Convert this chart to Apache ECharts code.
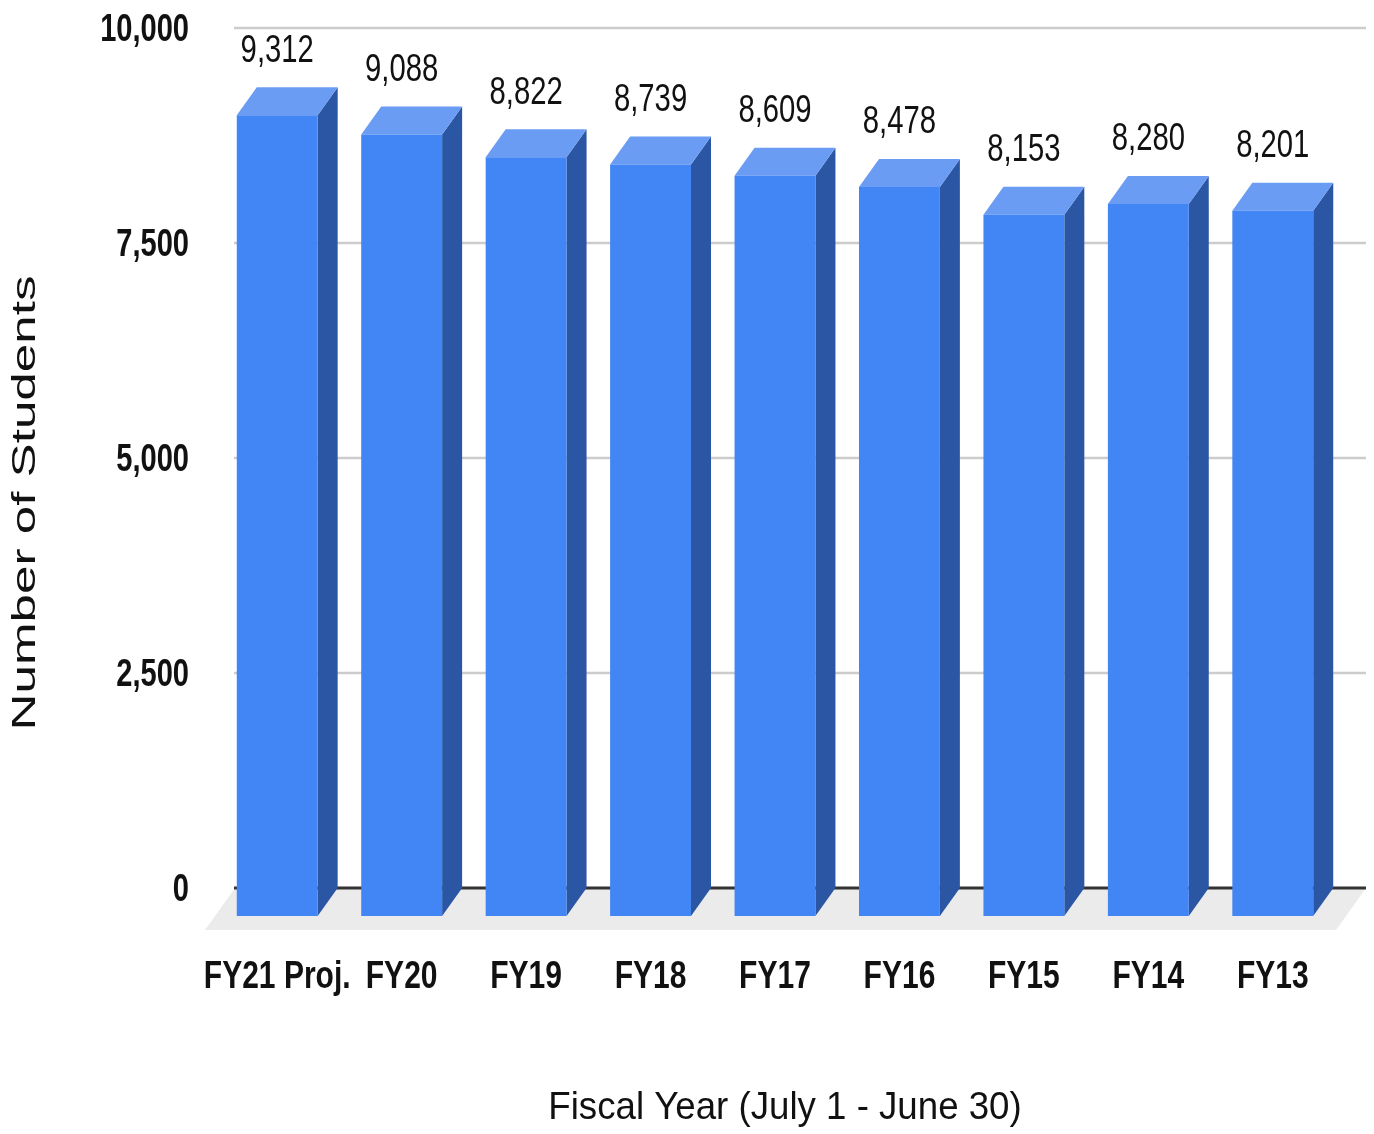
<!DOCTYPE html>
<html lang="en">
<head>
    <meta charset="UTF-8">
    <title>Number of Students by Fiscal Year</title>
    <style>
        html, body { margin: 0; padding: 0; background: #fff; }
    </style>
</head>
<body>
<div id="main" style="width: 1374px;height:1134px;"></div>

<script src="https://cdn.jsdelivr.net/npm/echarts@6/dist/echarts.min.js"></script>
<script>
    // data
    var years = ['FY21 Proj.', 'FY20', 'FY19', 'FY18', 'FY17', 'FY16', 'FY15', 'FY14', 'FY13'];
    var students = [9312, 9088, 8822, 8739, 8609, 8478, 8153, 8280, 8201];
    var yTicks = [0, 2500, 5000, 7500, 10000];

    var xTitle = 'Fiscal Year (July 1 - June 30)';
    var yTitle = 'Number of Students';

    var FONT = '"Liberation Sans", Arial, sans-serif';

    // 3d look: the face of each bar sits in front of the back wall (left / down)
    var DX = 20, DY = 28;

    var myChart = echarts.init(document.getElementById('main'));

    function fmt(v) {
        return v.toLocaleString('en-US');
    }

    // the source text is narrow and tall, so texts get squeezed with scaleX
    function label(x, y, str, font, sx, align, rot) {
        return {
            type: 'text',
            x: x,
            y: y,
            scaleX: sx,
            rotation: rot || 0,
            silent: true,
            style: {
                x: 0,
                y: 0,
                text: str,
                font: font,
                fill: '#111',
                textAlign: align || 'center',
                textVerticalAlign: 'middle'
            }
        };
    }

    // floor, gridlines, tick labels and axis titles
    function renderBack(params, api) {
        var cs = params.coordSys;
        var y0 = cs.y + cs.height;
        var right = cs.x + cs.width + 11;
        var kids = [];

        kids.push({
            type: 'polygon',
            shape: {
                points: [[cs.x, y0], [right, y0], [right - 30, y0 + 42], [cs.x - 30, y0 + 42]]
            },
            style: { fill: '#ebebeb' }
        });

        yTicks.forEach(function (t) {
            var y = api.coord([0, t])[1];
            kids.push({
                type: 'line',
                shape: { x1: cs.x - 1, y1: y, x2: right, y2: y },
                style: t === 0 ? { stroke: '#333', lineWidth: 3 } : { stroke: '#cccccc', lineWidth: 2.5 }
            });
            kids.push(label(cs.x - 46, y + 2, fmt(t), 'bold 39px ' + FONT, 0.745, 'right'));
        });

        kids.push(label(cs.x + cs.width / 2 - 10, y0 + 220, xTitle, '39px ' + FONT, 0.94));
        kids.push(label(26, cs.y + cs.height / 2 + 45, yTitle, '33px ' + FONT, 1.55, 'center', Math.PI / 2));

        return { type: 'group', children: kids };
    }

    function renderBar(params, api) {
        var i = api.value(0);
        var top = api.coord([i, api.value(1)]);
        var base = api.coord([i, 0]);
        var w = api.size([1, 0])[0] * 0.65;
        var cx = top[0] - DX;
        var l = cx - w / 2, r = cx + w / 2;
        var ft = top[1] + DY, fb = base[1] + DY;
        return {
            type: 'group',
            children: [
                {
                    type: 'polygon',
                    shape: { points: [[r, ft], [r + DX, top[1]], [r + DX, base[1]], [r, fb]] },
                    style: { fill: '#2b56a3' }
                },
                {
                    type: 'polygon',
                    shape: { points: [[l, ft], [r, ft], [r + DX, top[1]], [l + DX, top[1]]] },
                    style: { fill: '#6a9cf4' }
                },
                {
                    type: 'rect',
                    shape: { x: l, y: ft, width: w, height: fb - ft },
                    style: { fill: '#4285f4' }
                },
                label(cx, top[1] - 36, fmt(api.value(1)), '38px ' + FONT, 0.77),
                label(cx, base[1] + 89, years[i], 'bold 39px ' + FONT, 0.77)
            ]
        };
    }

    var option = {
        animation: false,
        backgroundColor: '#fff',
        grid: {
            left: 235,
            right: 19,
            top: 28,
            bottom: 246
        },
        xAxis: {
            type: 'category',
            data: years,
            axisLine: { show: false },
            axisTick: { show: false },
            axisLabel: { show: false }
        },
        yAxis: {
            type: 'value',
            min: yTicks[0],
            max: yTicks[yTicks.length - 1],
            interval: 2500,
            axisLine: { show: false },
            axisTick: { show: false },
            axisLabel: { show: false },
            splitLine: { show: false }
        },
        series: [
            {
                type: 'custom',
                renderItem: renderBack,
                data: [[0, 0]],
                z: 1,
                silent: true
            },
            {
                type: 'custom',
                renderItem: renderBar,
                data: students.map(function (v, i) { return [i, v]; }),
                encode: { x: 0, y: 1 },
                z: 5,
                silent: true
            }
        ]
    };

    myChart.setOption(option);
</script>
</body>
</html>
